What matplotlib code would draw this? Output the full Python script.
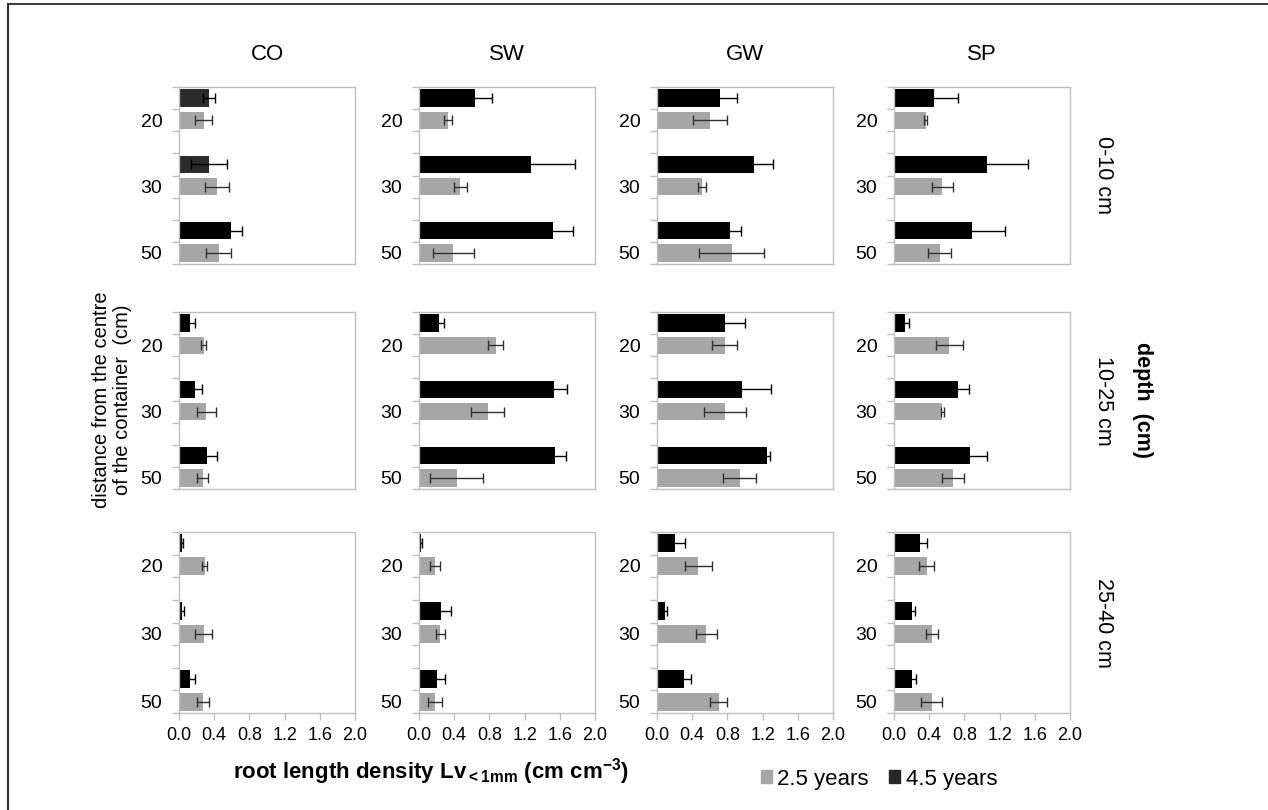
import numpy as np
import matplotlib.pyplot as plt
from matplotlib.patches import Patch
from matplotlib.lines import Line2D

plt.rcParams['font.family'] = ['Liberation Sans', 'DejaVu Sans']

sites = ["CO", "SW", "GW", "SP"]
depths = ["0-10 cm", "10-25 cm", "25-40 cm"]
distances = ["20", "30", "50"]
xticks = [0.0, 0.4, 0.8, 1.2, 1.6, 2.0]

# Lv means, [depth][site][distance 20/30/50]
lv_25 = [
    [[0.28, 0.43, 0.45], [0.33, 0.47, 0.39], [0.60, 0.51, 0.85], [0.36, 0.55, 0.52]],
    [[0.28, 0.31, 0.27], [0.87, 0.78, 0.43], [0.77, 0.77, 0.94], [0.63, 0.55, 0.67]],
    [[0.29, 0.28, 0.27], [0.18, 0.24, 0.18], [0.47, 0.56, 0.70], [0.37, 0.43, 0.43]],
]
se_25 = [
    [[0.10, 0.14, 0.14], [0.045, 0.075, 0.23], [0.19, 0.045, 0.37], [0.02, 0.12, 0.13]],
    [[0.03, 0.11, 0.06], [0.085, 0.19, 0.30], [0.14, 0.24, 0.185], [0.15, 0.02, 0.13]],
    [[0.03, 0.095, 0.07], [0.06, 0.05, 0.08], [0.15, 0.12, 0.095], [0.09, 0.07, 0.12]],
]
lv_45 = [
    [[0.34, 0.34, 0.59], [0.64, 1.27, 1.52], [0.72, 1.10, 0.83], [0.46, 1.06, 0.89]],
    [[0.13, 0.18, 0.32], [0.23, 1.53, 1.55], [0.77, 0.97, 1.25], [0.13, 0.73, 0.86]],
    [[0.03, 0.035, 0.12], [0.02, 0.25, 0.20], [0.20, 0.09, 0.31], [0.29, 0.20, 0.20]],
]
se_45 = [
    [[0.07, 0.20, 0.13], [0.19, 0.50, 0.23], [0.19, 0.22, 0.12], [0.27, 0.46, 0.37]],
    [[0.05, 0.08, 0.11], [0.05, 0.155, 0.12], [0.23, 0.33, 0.03], [0.035, 0.12, 0.20]],
    [[0.01, 0.02, 0.06], [0.01, 0.11, 0.09], [0.115, 0.02, 0.08], [0.09, 0.04, 0.05]],
]

W, H = 1268, 810
fig = plt.figure(figsize=(W / 100, H / 100), dpi=100)

def fx(x):
    return x / W

def fy(y):
    return 1 - y / H

col_left = [179, 419, 657, 894]
col_w = 176
row_top = [87, 312, 532]
row_h = [177, 177, 181]

gray = '#A6A6A6'
spine_c = '#BFBFBF'
y45 = [0, 3, 6]
y25 = [1, 4, 7]

for r in range(3):
    for c in range(4):
        ax = fig.add_axes([fx(col_left[c]), fy(row_top[r] + row_h[r]), col_w / W, row_h[r] / H])
        dark = '#2b2b2b' if (r == 0 and c == 0) else 'black'
        cols45 = [dark, dark, 'black']
        ax.barh(y25, lv_25[r][c], height=0.78, color=gray, xerr=se_25[r][c],
                error_kw=dict(ecolor='#303030', elinewidth=1, capsize=3.5, capthick=1))
        ax.barh(y45, lv_45[r][c], height=0.78, color=cols45, xerr=se_45[r][c],
                error_kw=dict(ecolor='black', elinewidth=1, capsize=3.5, capthick=1))
        ax.set_xlim(0, 2)
        ax.set_ylim(7.5, -0.5)
        ax.set_yticks(y25, distances)
        ax.set_yticks(np.arange(-0.5, 8, 1), minor=True)
        ax.tick_params(axis='y', which='major', length=0, pad=12, labelsize=14)
        ax.tick_params(axis='y', which='minor', length=5, color=spine_c, width=1)
        ax.set_xticks(xticks)
        if r == 2:
            ax.set_xticklabels([f"{t:.1f}" for t in xticks])
            ax.tick_params(axis='x', length=5, color=spine_c, width=1, labelsize=13, pad=5)
        else:
            ax.tick_params(axis='x', bottom=False, labelbottom=False)
        for s in ax.spines.values():
            s.set_color(spine_c)
            s.set_linewidth(1)

for c in range(4):
    fig.text(fx(col_left[c] + col_w / 2), fy(54), sites[c], ha='center', va='center', fontsize=16)

for r in range(3):
    fig.text(fx(1103), fy(row_top[r] + row_h[r] / 2), depths[r], rotation=-90,
             ha='center', va='center', fontsize=15.5)

fig.text(fx(1142), fy(400), 'depth  (cm)', rotation=-90, ha='center', va='center',
         fontsize=15.5, fontweight='bold')
fig.text(fx(112), fy(400), 'distance from the centre\nof the container  (cm)', rotation=90,
         ha='center', va='center', fontsize=14.5, linespacing=1.1)
fig.text(fx(431), fy(772), r'root length density Lv$_{\mathregular{<1mm}}$ (cm cm$^{\mathregular{-3}}$)',
         ha='center', va='center', fontsize=16, fontweight='bold')

handles = [Patch(color=gray, label='2.5 years'), Patch(color='#262626', label='4.5 years')]
fig.legend(handles=handles, loc='center', bbox_to_anchor=(fx(879), fy(779)), ncol=2,
           frameon=False, handlelength=0.5, handleheight=0.5, handletextpad=0.25,
           columnspacing=0.9, fontsize=16, borderpad=0, borderaxespad=0)

fig.add_artist(Line2D([fx(8), 1], [fy(4), fy(4)], transform=fig.transFigure,
                      color='#404040', linewidth=1.5))
fig.add_artist(Line2D([fx(8), fx(8)], [fy(4), 0], transform=fig.transFigure,
                      color='#303030', linewidth=1.5))

fig.savefig('out.png', dpi=100)
